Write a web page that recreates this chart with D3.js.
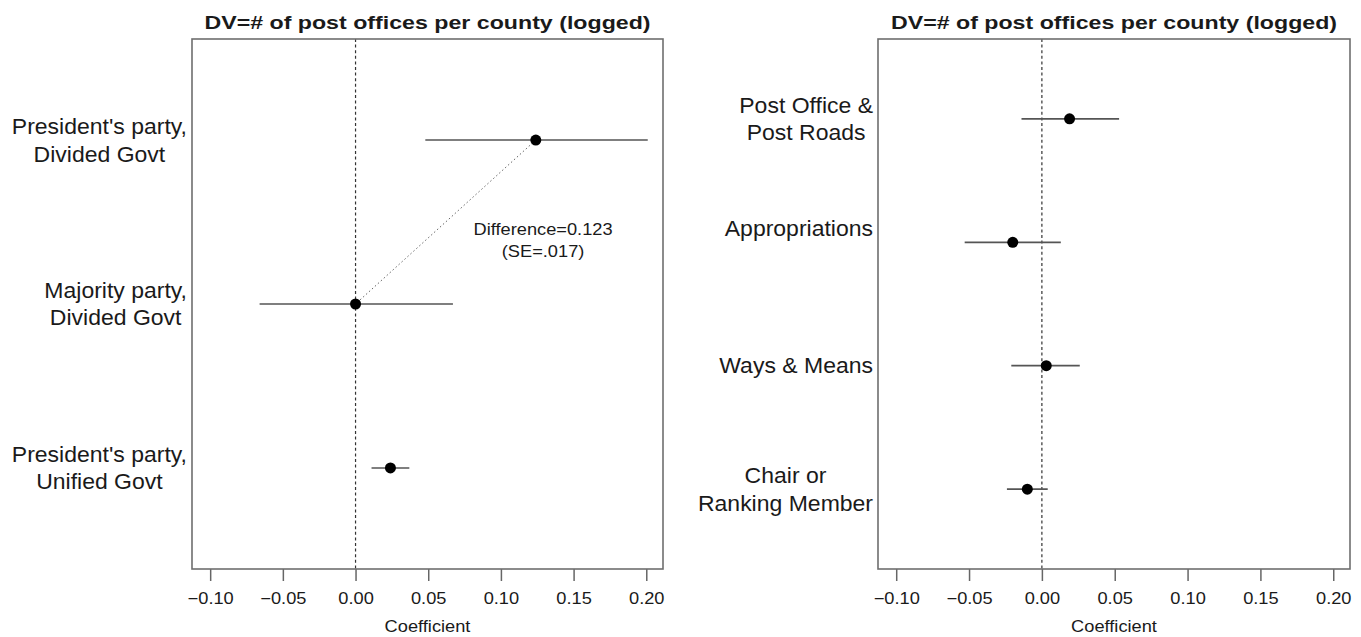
<!DOCTYPE html>
<html>
<head>
<meta charset="utf-8">
<script src="https://cdn.jsdelivr.net/npm/d3@7/dist/d3.min.js"></script>
<style>
  html, body { margin: 0; padding: 0; background: #fff; }
  svg { display: block; }
  text { font-family: "Liberation Sans", Arial, Helvetica, sans-serif; fill: #1a1a1a; }
</style>
</head>
<body>
<svg id="chart" width="1361" height="637"></svg>
<script>
// ---------------- data ----------------
const xTickValues = [-0.10, -0.05, 0.00, 0.05, 0.10, 0.15, 0.20];
const titleText = "DV=# of post offices per county (logged)";
const xAxisTitle = "Coefficient";

const leftCategories = [
  ["President's party,", "Divided Govt"],
  ["Majority party,", "Divided Govt"],
  ["President's party,", "Unified Govt"]
];
const leftEstimate = [0.124, 0.000, 0.024];
const leftLower    = [0.048, -0.066, 0.011];
const leftUpper    = [0.201, 0.067, 0.037];

const rightCategories = [
  ["Post Office &", "Post Roads"],
  ["Appropriations", ""],
  ["Ways & Means"],
  ["Chair or", "Ranking Member"]
];
const rightEstimate = [0.019, -0.020, 0.003, -0.010];
const rightLower    = [-0.014, -0.053, -0.021, -0.024];
const rightUpper    = [0.053, 0.013, 0.026, 0.004];

const annotationLines = ["Difference=0.123", "(SE=.017)"];

// ---------------- layout ----------------
const svg = d3.select("#chart");
const plotTop = 39, plotBottom = 569;
const xDomain = [-0.1125, 0.2115];

function scaledText(parent, x, y, str, opts) {
  const g = parent.append("g").attr("transform", `translate(${x},${y}) scale(${opts.sx || 1},1)`);
  const t = g.append("text")
    .attr("text-anchor", opts.anchor || "middle")
    .style("font-size", opts.size + "px")
    .style("font-weight", opts.weight || "normal")
    .text(str);
  return t;
}

function panel(cfg) {
  const g = svg.append("g");
  const x = d3.scaleLinear().domain(xDomain).range([cfg.left, cfg.right]);
  const idx = cfg.categories.map((d, i) => i);
  const y = d3.scalePoint().domain(idx).range([plotTop, plotBottom]).padding(cfg.padding);

  // title
  scaledText(g, (cfg.left + cfg.right) / 2, 28.5, titleText, {size: 19, weight: "bold", sx: 1.22});

  // x axis
  const axis = d3.axisBottom(x).tickValues(xTickValues).tickSize(12).tickPadding(12)
    .tickFormat(d => (d < 0 ? "\u2212" : "") + d3.format(".2f")(Math.abs(d)));
  const ax = g.append("g").attr("transform", `translate(0,${plotBottom})`).call(axis);
  ax.select(".domain").remove();
  ax.selectAll(".tick line").attr("stroke", "#666").attr("stroke-width", 1.5);
  ax.selectAll(".tick text")
    .attr("fill", "#1a1a1a")
    .style("font-size", "16px")
    .style("font-family", "'Liberation Sans', Arial, Helvetica, sans-serif")
    .attr("transform", "scale(1.14,1)");

  scaledText(g, (cfg.left + cfg.right) / 2, 632, xAxisTitle, {size: 16, sx: 1.14});

  // zero reference line
  g.append("line")
    .attr("x1", x(0)).attr("x2", x(0))
    .attr("y1", plotTop).attr("y2", plotBottom)
    .attr("stroke", "#333").attr("stroke-width", 1.2)
    .attr("stroke-dasharray", "3,2.6");

  // optional dotted connector + annotation
  if (cfg.connector) {
    const [a, b] = cfg.connector;
    g.append("line")
      .attr("x1", x(cfg.estimate[a])).attr("y1", y(a))
      .attr("x2", x(cfg.estimate[b])).attr("y2", y(b))
      .attr("stroke", "#666").attr("stroke-width", 1)
      .attr("stroke-dasharray", "1.5,2.5");
    const ay = y(a) + (y(b) - y(a)) * 0.61;
    const ax0 = x(0.129);
    annotationLines.forEach((line, i) => {
      const lh = 22.5;
      const cy = ay + (i - (annotationLines.length - 1) / 2) * lh;
      scaledText(g, ax0, cy + 5.8, line, {size: 16, sx: 1.14});
    });
  }

  // confidence intervals
  g.selectAll("line.ci").data(idx).enter().append("line")
    .attr("class", "ci")
    .attr("x1", i => x(cfg.lower[i])).attr("x2", i => x(cfg.upper[i]))
    .attr("y1", i => y(i)).attr("y2", i => y(i))
    .attr("stroke", "#555").attr("stroke-width", 1.7);

  // estimates
  g.selectAll("circle.est").data(idx).enter().append("circle")
    .attr("class", "est")
    .attr("cx", i => x(cfg.estimate[i])).attr("cy", i => y(i))
    .attr("r", 5.5).attr("fill", "#000");

  // frame
  g.append("rect")
    .attr("x", cfg.left).attr("y", plotTop)
    .attr("width", cfg.right - cfg.left).attr("height", plotBottom - plotTop)
    .attr("fill", "none").attr("stroke", "#6e6e6e").attr("stroke-width", 1.6);

  // category labels (multi-line, block right-aligned, lines centred)
  const fs = 21.5, sx = 1.07, lh = 27.5;
  cfg.categories.forEach((lines, i) => {
    const lg = g.append("g");
    const texts = lines.map(l => scaledText(lg, 0, 0, l, {size: fs, sx: sx}));
    const maxW = d3.max(texts, t => t.node().getComputedTextLength()) * sx;
    const cx = cfg.left - 5 - maxW / 2;
    const cy = y(i);
    texts.forEach((t, k) => {
      const ly = cy + (k - (lines.length - 1) / 2) * lh + fs * 0.36;
      d3.select(t.node().parentNode).attr("transform", `translate(${cx},${ly}) scale(${sx},1)`);
    });
  });
}

panel({
  left: 192, right: 663, padding: 0.616,
  categories: leftCategories, estimate: leftEstimate, lower: leftLower, upper: leftUpper,
  connector: [0, 1]
});
panel({
  left: 878, right: 1350, padding: 0.647,
  categories: rightCategories, estimate: rightEstimate, lower: rightLower, upper: rightUpper
});
</script>
</body>
</html>
